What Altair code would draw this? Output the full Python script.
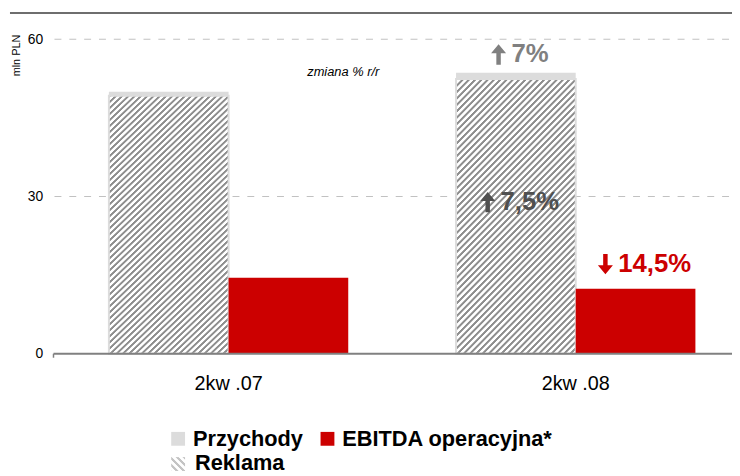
import altair as alt
import pandas as pd

quarters = ["2kw .07", "2kw .08"]
przychody = [50.0, 53.6]
reklama = [49.2, 52.4]
ebitda = [14.5, 12.4]
legend_labels = ["Przychody", "EBITDA operacyjna*", "Reklama"]
y_ticks = [0, 30, 60]
grid_vals = [30, 60]
y_title = "mln PLN"
note = "zmiana % r/r"
changes = ["7%", "7,5%", "14,5%"]

FONT = "Liberation Sans"
W, H = 685, 318
GRAY = "#dcdcdc"
RED = "#cc0000"
UP = "M0,-1L0.74,-0.12L0.22,-0.12L0.22,1L-0.22,1L-0.22,-0.12L-0.74,-0.12Z"
DOWN = "M0,1L0.74,0.12L0.22,0.12L0.22,-1L-0.22,-1L-0.22,0.12L-0.74,0.12Z"

rows = []
for q, p, r, e in zip(quarters, przychody, reklama, ebitda):
    rows.append({"q": q, "grp": "a", "series": "Przychody", "v": p})
    rows.append({"q": q, "grp": "a", "series": "Reklama", "v": r})
    rows.append({"q": q, "grp": "b", "series": "EBITDA", "v": e})
df = pd.DataFrame(rows)


def stripes(n, dark, light, d=0.3):
    stops = []
    for k in range(n):
        stops.append(alt.GradientStop(offset=k / n, color=dark))
        stops.append(alt.GradientStop(offset=(k + d) / n, color=dark))
        stops.append(alt.GradientStop(offset=(k + d + 0.15) / n, color=light))
        stops.append(alt.GradientStop(offset=(k + 0.85) / n, color=light))
    stops.append(alt.GradientStop(offset=1, color=dark))
    return stops


hatch = alt.LinearGradient(gradient="linear", stops=stripes(62, "#8e8e8e", "#ffffff", 0.3),
                           x1=0, y1=0, x2=0.536, y2=1.206)
hatch_legend = alt.LinearGradient(gradient="linear", stops=stripes(4, "#c4c4c4", "#ffffff"),
                                  x1=1, y1=0, x2=0, y2=1)

x_scale = alt.Scale(range=[55, 648], paddingInner=0.3105, paddingOuter=0)
x_enc = alt.X("q:N", sort=quarters, scale=x_scale,
              axis=alt.Axis(title=None, domain=False, ticks=False, labelAngle=0,
                            labelFont=FONT, labelFontSize=20, labelColor="black",
                            labelPadding=20))
xo_enc = alt.XOffset("grp:N", scale=alt.Scale(domain=["a", "b"], paddingInner=0, paddingOuter=0))
y_enc = alt.Y("v:Q", scale=alt.Scale(domain=[0, 60], nice=False),
              axis=alt.Axis(values=y_ticks, title=y_title, domain=False, ticks=False,
                            labelFont=FONT, labelFontSize=14, labelColor="black",
                            labelPadding=12, grid=False,
                            titleFont=FONT, titleFontSize=11, titleFontWeight="normal",
                            titleColor="black", titleX=-38, titleY=16, titleAngle=270,
                            titleAlign="center", titleBaseline="middle"))

base = alt.Chart(df).encode(x=x_enc, xOffset=xo_enc, y=y_enc)

grid = alt.Chart(pd.DataFrame({"v": grid_vals})).mark_rule(
    color="#c0c0c0", strokeDash=[7, 8], strokeWidth=1).encode(
    y=alt.Y("v:Q"), x=alt.value(0), x2=alt.value(W))

bars_p = base.transform_filter(alt.datum.series == "Przychody").mark_bar(color=GRAY)
bars_r = base.transform_filter(alt.datum.series == "Reklama").mark_bar(
    fill=hatch, stroke=GRAY, strokeWidth=2)
bars_e = base.transform_filter(alt.datum.series == "EBITDA").mark_bar(color=RED)

# annotations: positioned relative to the quarter's group centre (no xOffset channel)
txt = dict(font=FONT, fontSize=26, fontWeight="bold", baseline="middle", align="left")
sel2 = alt.datum.q == quarters[1]
xg = alt.X("q:N", sort=quarters, scale=x_scale)
a1 = alt.Chart(df).transform_filter((alt.datum.series == "Przychody") & sel2).encode(x=xg, y=alt.Y("v:Q"))
a2 = alt.Chart(df).transform_filter((alt.datum.series == "Reklama") & sel2).encode(x=xg, y=alt.datum(29))
a3 = alt.Chart(df).transform_filter((alt.datum.series == "EBITDA") & sel2).encode(x=xg, y=alt.Y("v:Q"))

t1 = a1.mark_text(text=changes[0], color="#808080", dy=-19, dx=-65, **txt)
p1 = a1.mark_point(shape=UP, size=420, filled=True, color="#808080", opacity=1,
                   xOffset=-78, yOffset=-18.5)
t2 = a2.mark_text(text=changes[1], color="#505050", dx=-76, **txt)
p2 = a2.mark_point(shape=UP, size=420, filled=True, color="#505050", opacity=1,
                   xOffset=-89, yOffset=0.5)
t3 = a3.mark_text(text=changes[2], color=RED, dy=-25, dx=43, **txt)
p3 = a3.mark_point(shape=DOWN, size=420, filled=True, color=RED, opacity=1,
                   xOffset=30, yOffset=-25)

one = alt.Chart(pd.DataFrame({"k": [0]}))
note_t = one.mark_text(text=note, font=FONT, fontSize=13, fontStyle="italic", color="black",
                       align="center", baseline="middle").encode(x=alt.value(292), y=alt.value(33))
top_rule = one.mark_rule(color="#6e6e6e", strokeWidth=2).encode(
    x=alt.value(-45), x2=alt.value(W), y=alt.value(-26.5))
bottom_rule = one.mark_rule(color="#808080", strokeWidth=2).encode(
    x=alt.value(-1), x2=alt.value(W), y=alt.value(H))
left_tick = one.mark_rule(color="#808080", strokeWidth=1.5).encode(
    x=alt.value(-1), y=alt.value(H), y2=alt.value(H + 4))

lg_txt = dict(font=FONT, fontSize=22, fontWeight="bold", color="black", align="left",
              baseline="alphabetic")
lg = [
    one.mark_square(size=196, color=GRAY, opacity=1).encode(x=alt.value(125), y=alt.value(404)),
    one.mark_text(text=legend_labels[0], **lg_txt).encode(x=alt.value(140), y=alt.value(411)),
    one.mark_square(size=196, color=RED, opacity=1).encode(x=alt.value(276), y=alt.value(404)),
    one.mark_text(text=legend_labels[1], **lg_txt).encode(x=alt.value(291), y=alt.value(411)),
    one.mark_square(size=196, fill=hatch_legend, opacity=1).encode(x=alt.value(125), y=alt.value(429.5)),
    one.mark_text(text=legend_labels[2], **lg_txt).encode(x=alt.value(142), y=alt.value(436)),
]

chart = alt.layer(grid, bars_p, bars_r, bars_e, t1, p1, t2, p2, t3, p3, note_t, top_rule,
                  bottom_rule, left_tick, *lg).properties(
    width=W, height=H,
    autosize=alt.AutoSizeParams(type="none"),
    padding={"left": 47, "top": 29, "right": 0, "bottom": 121},
).configure_view(stroke=None)

chart.save("out.html", embed_options={"renderer": "svg", "actions": False})
